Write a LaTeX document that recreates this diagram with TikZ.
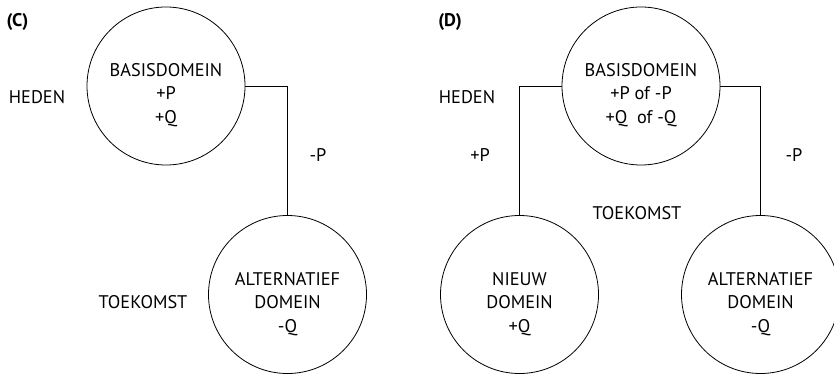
\documentclass[tikz,border=0pt]{standalone}
\usepackage{fontspec}
\setmainfont{PT Sans}
\begin{document}
\begin{tikzpicture}[x=1pt,y=-1pt,
  dom/.style={draw,circle,minimum size=158pt,inner sep=0pt,line width=0.8pt},
  txt/.style={align=center,inner sep=0pt,font=\fontsize{18.3}{23.5}\selectfont},
  lbl/.style={inner sep=0pt,font=\fontsize{18.3}{20}\selectfont\bfseries},
  conn/.style={line width=0.8pt}]
\useasboundingbox (0,0) rectangle (834,374);

% panel (C)
\node[lbl] (lc) at (17.5,22) {(C)};
\node[dom] (cb) at (166,86) {};
\node[txt] (cbt) at (166,95) {BASISDOMEIN\\+P\\+Q};
\node[txt] (ch) at (37,97) {HEDEN};
\node[dom] (ca) at (287.5,294.5) {};
\node[txt] (cat) at (287.5,304) {ALTERNATIEF\\DOMEIN\\-Q};
\node[txt] (ct) at (143,302) {TOEKOMST};
\node[txt] (cp) at (318,155) {-P};
\draw[conn] (cb.east) -| (ca.north);

% panel (D)
\node[lbl] (ld) at (450,22) {(D)};
\node[dom] (db) at (641,86) {};
\node[txt] (dbt) at (641,95) {BASISDOMEIN\\+P of -P\\+Q\ \ of -Q};
\node[txt] (dh) at (467,97) {HEDEN};
\node[dom] (dn) at (519.5,294.5) {};
\node[txt] (dnt) at (519.5,304) {NIEUW\\DOMEIN\\+Q};
\node[dom] (da) at (760.5,294.5) {};
\node[txt] (dat) at (760.5,304) {ALTERNATIEF\\DOMEIN\\-Q};
\node[txt] (dt) at (637,213) {TOEKOMST};
\node[txt] (dpp) at (480,155) {+P};
\node[txt] (dmp) at (794,155) {-P};
\draw[conn] (db.west) -| (dn.north);
\draw[conn] (db.east) -| (da.north);
\end{tikzpicture}
\end{document}
